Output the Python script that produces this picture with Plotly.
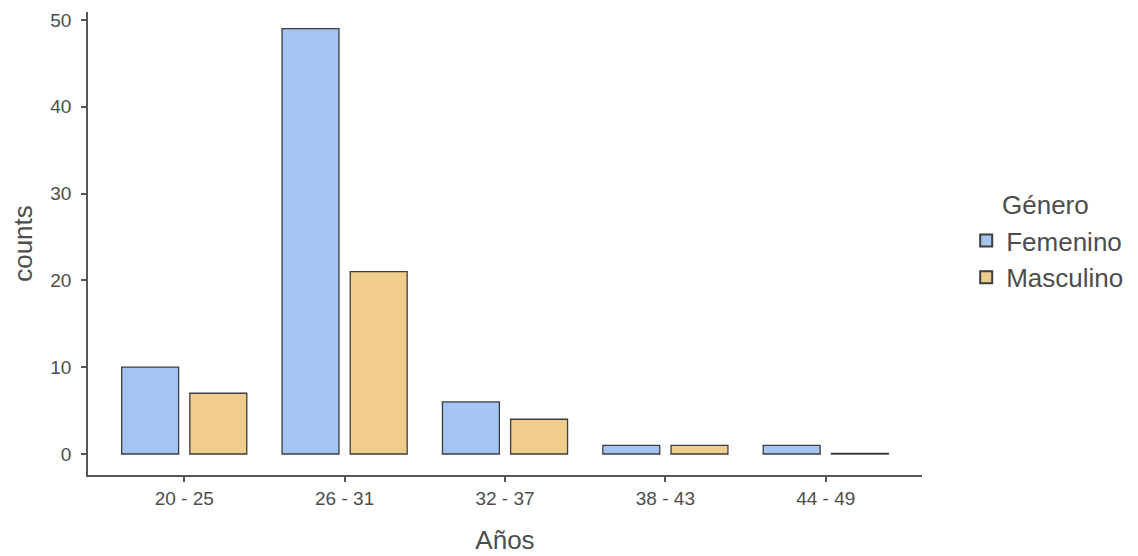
import plotly.graph_objects as go

categories = ["20 - 25", "26 - 31", "32 - 37", "38 - 43", "44 - 49"]
femenino = [10, 49, 6, 1, 1]
masculino = [7, 21, 4, 1, 0]
y_ticks = [0, 10, 20, 30, 40, 50]
legend_title = "Género"

# zero-count bars are drawn as a hairline (as in the reference)
def visible(vals):
    return [v if v > 0 else 0.06 for v in vals]

fig = go.Figure()
fig.add_trace(go.Bar(
    x=categories, y=visible(femenino), name="Femenino",
    marker=dict(color="#A4C4F2", line=dict(color="#3D3D3D", width=1.3)),
    offset=-0.39, width=0.355, customdata=femenino,
    hovertemplate="%{x}: %{customdata}<extra>Femenino</extra>",
))
fig.add_trace(go.Bar(
    x=categories, y=visible(masculino), name="Masculino",
    marker=dict(color="#F0CD8D", line=dict(color="#3D3D3D", width=1.3)),
    offset=0.035, width=0.355, customdata=masculino,
    hovertemplate="%{x}: %{customdata}<extra>Masculino</extra>",
))

font_family = "Liberation Sans, Arial, sans-serif"
text_color = "#4D4D4D"
fig.update_layout(
    width=1138, height=556,
    margin=dict(l=80, r=224, t=4, b=89),
    barmode="overlay",
    plot_bgcolor="white", paper_bgcolor="white",
    font=dict(family=font_family, color=text_color),
    legend=dict(
        font=dict(size=26, color=text_color),
        x=1.053, xanchor="left", y=0.557, yanchor="top",
        tracegroupgap=0, itemsizing="constant",
    ),
    annotations=[dict(
        text=legend_title, xref="paper", yref="paper",
        x=1.093, y=0.583, xanchor="left", yanchor="middle",
        showarrow=False, font=dict(size=26, color=text_color),
    )],
    xaxis=dict(
        range=[-0.6, 4.6], automargin=False,
        showline=True, linecolor="#555555", linewidth=1.5,
        ticks="outside", ticklen=5, tickcolor="#555555", tickwidth=1.5,
        tickfont=dict(size=19, color=text_color),
        showgrid=False, zeroline=False,
        title=dict(text="Años", font=dict(size=26, color=text_color), standoff=23),
    ),
    yaxis=dict(
        range=[-2.42, 50.92], automargin=False,
        tickvals=y_ticks, ticklabelstandoff=6,
        showline=True, linecolor="#555555", linewidth=1.5,
        ticks="outside", ticklen=5, tickcolor="#555555", tickwidth=1.5,
        tickfont=dict(size=19, color=text_color),
        showgrid=False, zeroline=False,
        title=dict(text="counts", font=dict(size=26, color=text_color), standoff=20),
    ),
)

fig.write_html("out.html")
